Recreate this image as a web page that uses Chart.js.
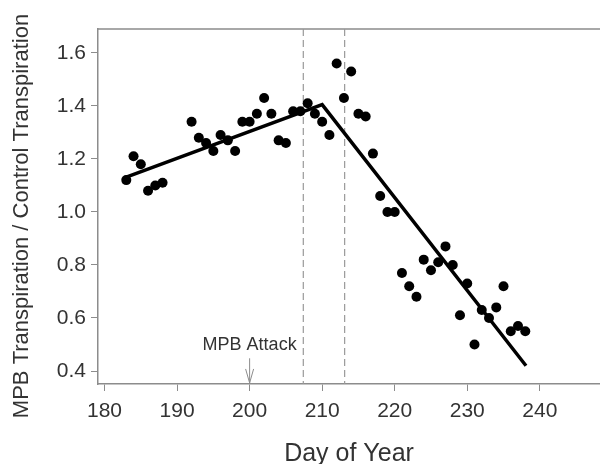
<!DOCTYPE html>
<html lang="en">
<head>
  <meta charset="UTF-8" />
  <title>MPB Transpiration</title>
  <script src="https://cdn.jsdelivr.net/npm/chart.js"></script>
  <style>
    body { margin: 0; background: #fff; overflow: hidden; }
    #grafico { display: block; }
  </style>
</head>
<body>
<canvas id="grafico" width="605" height="464"></canvas>
<script>
  // dias observados e razao MPB / controle
  const dias = [183, 184, 185, 186, 187, 188, 192, 193, 194, 195, 196, 197, 198, 199, 200, 201, 202, 203, 204, 205,
    206, 207, 208, 209, 210, 211, 212, 213, 214, 215, 216, 217, 218, 219, 220, 221, 222, 223, 224, 225, 226,
    227, 228, 229, 230, 231, 232, 233, 234, 235, 236, 237, 238];
  const razao = [1.12, 1.21, 1.18, 1.08, 1.10, 1.11, 1.34, 1.28, 1.26, 1.23, 1.29, 1.27, 1.23, 1.34, 1.34, 1.37, 1.43, 1.37, 1.27, 1.26,
    1.38, 1.38, 1.41, 1.37, 1.34, 1.29, 1.56, 1.43, 1.53, 1.37, 1.36, 1.22, 1.06, 1.00, 1.00, 0.77, 0.72, 0.68, 0.82, 0.78, 0.81,
    0.87, 0.80, 0.61, 0.73, 0.50, 0.63, 0.60, 0.64, 0.72, 0.55, 0.57, 0.55];

  // reta segmentada ajustada
  const ajusteDias = [182.9, 210.0, 238.1];
  const ajusteValores = [1.13, 1.405, 0.42];

  // linhas tracejadas e ataque
  const diasEvento = [207.4, 213.1];
  const diaAtaque = 200;

  const ticksX = [180, 190, 200, 210, 220, 230, 240];
  const ticksY = [0.4, 0.6, 0.8, 1.0, 1.2, 1.4, 1.6];

  const cinza = '#8c8c8c';
  const texto = '#333333';
  const fonte = "'Liberation Sans', Arial, sans-serif";

  const extras = {
    id: 'extras',
    beforeDatasetsDraw(chart) {
      const { ctx, chartArea, scales } = chart;
      ctx.save();
      // borda de cima e prolongamento do eixo x ate a margem
      ctx.strokeStyle = cinza;
      ctx.lineWidth = 1.5;
      ctx.beginPath();
      ctx.moveTo(chartArea.left, chartArea.top);
      ctx.lineTo(chart.width, chartArea.top);
      ctx.moveTo(chartArea.right, chartArea.bottom);
      ctx.lineTo(chart.width, chartArea.bottom);
      ctx.stroke();
      // tracejadas
      ctx.strokeStyle = '#999';
      ctx.setLineDash([7, 4]);
      ctx.lineWidth = 1.2;
      diasEvento.forEach(d => {
        const x = scales.x.getPixelForValue(d);
        ctx.beginPath();
        ctx.moveTo(x, chartArea.top);
        ctx.lineTo(x, chartArea.bottom);
        ctx.stroke();
      });
      ctx.setLineDash([]);
      // seta do ataque
      const xa = scales.x.getPixelForValue(diaAtaque);
      const y1 = scales.y.getPixelForValue(0.448);
      const y2 = scales.y.getPixelForValue(0.355);
      ctx.strokeStyle = cinza;
      ctx.lineWidth = 1;
      ctx.beginPath();
      ctx.moveTo(xa, y1);
      ctx.lineTo(xa, y2);
      ctx.moveTo(xa - 4, y2 - 14);
      ctx.lineTo(xa, y2);
      ctx.lineTo(xa + 4, y2 - 14);
      ctx.stroke();
      ctx.fillStyle = texto;
      ctx.font = '18px ' + fonte;
      ctx.textAlign = 'center';
      ctx.textBaseline = 'middle';
      ctx.fillText('MPB Attack', xa, scales.y.getPixelForValue(0.498));
      // titulo do eixo y
      ctx.translate(22, 216);
      ctx.rotate(-Math.PI / 2);
      ctx.font = '22px ' + fonte;
      ctx.fillText('MPB Transpiration / Control Transpiration', 0, 0);
      ctx.restore();
    }
  };

  new Chart(document.getElementById('grafico'), {
    type: 'scatter',
    data: {
      datasets: [
        {
          label: 'Razao',
          data: dias.map((d, i) => ({ x: d, y: razao[i] })),
          backgroundColor: '#000',
          borderColor: '#000',
          pointRadius: 5,
          pointBorderWidth: 0
        },
        {
          type: 'line',
          label: 'Ajuste',
          data: ajusteDias.map((d, i) => ({ x: d, y: ajusteValores[i] })),
          borderColor: '#000',
          borderWidth: 3.5,
          pointRadius: 0,
          fill: false,
          tension: 0
        }
      ]
    },
    options: {
      responsive: false,
      animation: false,
      layout: { padding: { top: 29, left: 0, right: 0, bottom: 0 } },
      plugins: {
        legend: { display: false },
        tooltip: { enabled: false }
      },
      scales: {
        x: {
          type: 'linear',
          min: 179.1,
          max: 248.3,
          afterBuildTicks: s => { s.ticks = ticksX.map(v => ({ value: v })); },
          afterFit: s => { s.height = 80; },
          border: { display: true, color: cinza, width: 1.5 },
          grid: { drawOnChartArea: false, drawTicks: true, tickLength: 7, color: cinza },
          ticks: { color: texto, font: { size: 21, family: fonte }, padding: 8, maxRotation: 0 },
          title: { display: true, text: 'Day of Year', color: texto, font: { size: 25, family: fonte, lineHeight: 0.8 }, padding: 0 }
        },
        y: {
          min: 0.351,
          max: 1.69,
          afterBuildTicks: s => { s.ticks = ticksY.map(v => ({ value: v })); },
          afterFit: s => { s.width = 98; },
          border: { display: true, color: cinza, width: 1.5 },
          grid: { drawOnChartArea: false, drawTicks: true, tickLength: 7, color: cinza },
          ticks: { color: texto, font: { size: 21, family: fonte }, padding: 5, callback: v => v.toFixed(1) }
        }
      }
    },
    plugins: [extras]
  });
</script>
</body>
</html>
